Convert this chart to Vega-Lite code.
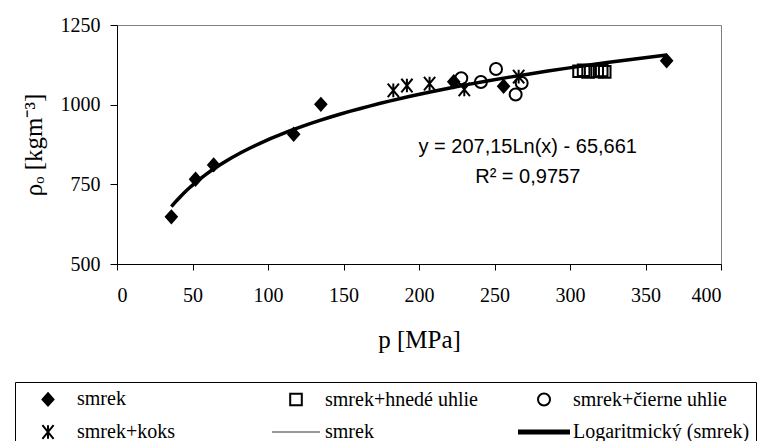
{
  "$schema": "https://vega.github.io/schema/vega-lite/v6.json",
  "width": 604,
  "height": 239,
  "autosize": {"type": "none"},
  "padding": {"left": 117, "top": 25, "right": 37, "bottom": 177},
  "background": "white",
  "config": {
    "view": {"stroke": "#808080", "strokeWidth": 1},
    "axis": {
      "grid": false,
      "domainColor": "black",
      "tickColor": "black",
      "labelColor": "black",
      "titleColor": "black",
      "labelFont": "Liberation Serif, Times New Roman, Tinos, serif",
      "labelFontSize": 20,
      "titleFont": "Liberation Serif, Times New Roman, Tinos, serif",
      "titleFontSize": 25,
      "titleFontWeight": "normal"
    },
    "legend": {
      "orient": "none",
      "legendX": -102,
      "legendY": 357,
      "columns": 3,
      "direction": "horizontal",
      "gridAlign": "all",
      "columnPadding": 13,
      "rowPadding": 11,
      "padding": 6,
      "strokeColor": "black",
      "fillColor": "white",
      "labelFont": "Liberation Serif, Times New Roman, Tinos, serif",
      "labelFontSize": 20,
      "labelColor": "black",
      "labelLimit": 400,
      "labelOffset": 18,
      "symbolOffset": 16,
      "symbolSize": 400,
      "symbolStrokeWidth": 2,
      "symbolOpacity": 1,
      "title": null
    }
  },
  "datasets": {
    "points": [
      {"p": 36, "rho": 648, "series": "smrek"},
      {"p": 52, "rho": 766, "series": "smrek"},
      {"p": 64, "rho": 811, "series": "smrek"},
      {"p": 117, "rho": 907, "series": "smrek"},
      {"p": 135, "rho": 1001, "series": "smrek"},
      {"p": 223, "rho": 1072, "series": "smrek"},
      {"p": 256, "rho": 1058, "series": "smrek"},
      {"p": 364, "rho": 1138, "series": "smrek"},
      {"p": 306, "rho": 1105, "series": "smrek+hnedé uhlie"},
      {"p": 309, "rho": 1108, "series": "smrek+hnedé uhlie"},
      {"p": 312, "rho": 1103, "series": "smrek+hnedé uhlie"},
      {"p": 318, "rho": 1104, "series": "smrek+hnedé uhlie"},
      {"p": 321, "rho": 1107, "series": "smrek+hnedé uhlie"},
      {"p": 323, "rho": 1103, "series": "smrek+hnedé uhlie"},
      {"p": 228, "rho": 1083, "series": "smrek+čierne uhlie"},
      {"p": 241, "rho": 1071, "series": "smrek+čierne uhlie"},
      {"p": 251, "rho": 1112, "series": "smrek+čierne uhlie"},
      {"p": 264, "rho": 1032, "series": "smrek+čierne uhlie"},
      {"p": 268, "rho": 1068, "series": "smrek+čierne uhlie"},
      {"p": 183, "rho": 1045, "series": "smrek+koks"},
      {"p": 192, "rho": 1060, "series": "smrek+koks"},
      {"p": 207, "rho": 1066, "series": "smrek+koks"},
      {"p": 230, "rho": 1048, "series": "smrek+koks"},
      {"p": 266, "rho": 1088, "series": "smrek+koks"}
    ],
    "notes": [
      {"p": 272, "rho": 868, "label": "y = 207,15Ln(x) - 65,661"},
      {"p": 272, "rho": 774, "label": "R² = 0,9757"}
    ]
  },
  "layer": [
    {
      "data": {"name": "points"},
      "mark": {"type": "point", "size": 400, "strokeWidth": 2, "opacity": 1},
      "encoding": {
        "x": {
          "field": "p",
          "type": "quantitative",
          "scale": {"domain": [0, 400], "nice": false, "zero": false},
          "axis": {
            "values": [0, 50, 100, 150, 200, 250, 300, 350, 400],
            "format": "d",
            "tickSize": 6,
            "labelPadding": 15,
            "title": "p [MPa]",
            "titlePadding": 22
          }
        },
        "y": {
          "field": "rho",
          "type": "quantitative",
          "scale": {"domain": [500, 1250], "nice": false, "zero": false},
          "axis": {
            "values": [500, 750, 1000, 1250],
            "format": "d",
            "tickSize": 7,
            "labelPadding": 10,
            "title": "ρₒ [kgm⁻³]",
            "titlePadding": 14
          }
        },
        "shape": {
          "field": "series",
          "type": "nominal",
          "scale": {
            "domain": ["smrek", "smrek+hnedé uhlie", "smrek+čierne uhlie", "smrek+koks", "smrek ", "Logaritmický (smrek)"],
            "range": [
              "M0,-0.62L0.55,0L0,0.62L-0.55,0Z",
              "M-0.58,-0.58L0.58,-0.58L0.58,0.58L-0.58,0.58Z",
              "M0.6,0A0.6,0.6,0,1,1,-0.6,0A0.6,0.6,0,1,1,0.6,0Z",
              "M-0.56,-0.68L0.56,0.68M0.56,-0.68L-0.56,0.68M0,-0.68L0,0.68",
              "M-2.4,-0.05L2.4,-0.05L2.4,0.05L-2.4,0.05Z",
              "M-2.5,-0.15L2.5,-0.15L2.5,0.15L-2.5,0.15Z"
            ]
          }
        },
        "fill": {
          "field": "series",
          "type": "nominal",
          "scale": {
            "domain": ["smrek", "smrek+hnedé uhlie", "smrek+čierne uhlie", "smrek+koks", "smrek ", "Logaritmický (smrek)"],
            "range": ["black", "transparent", "transparent", "transparent", "#333333", "black"]
          }
        },
        "stroke": {
          "field": "series",
          "type": "nominal",
          "scale": {
            "domain": ["smrek", "smrek+hnedé uhlie", "smrek+čierne uhlie", "smrek+koks", "smrek ", "Logaritmický (smrek)"],
            "range": ["black", "black", "black", "black", "transparent", "black"]
          }
        }
      }
    },
    {
      "data": {"name": "points"},
      "transform": [
        {"filter": "datum.series === 'smrek'"},
        {"regression": "rho", "on": "p", "method": "log", "extent": [36, 364]}
      ],
      "mark": {"type": "line", "color": "black", "strokeWidth": 3.5},
      "encoding": {
        "x": {"field": "p", "type": "quantitative"},
        "y": {"field": "rho", "type": "quantitative"}
      }
    },
    {
      "data": {"name": "notes"},
      "mark": {"type": "text", "font": "Liberation Sans", "fontSize": 20, "align": "center", "baseline": "middle", "color": "black"},
      "encoding": {
        "x": {"field": "p", "type": "quantitative"},
        "y": {"field": "rho", "type": "quantitative"},
        "text": {"field": "label"}
      }
    }
  ]
}
